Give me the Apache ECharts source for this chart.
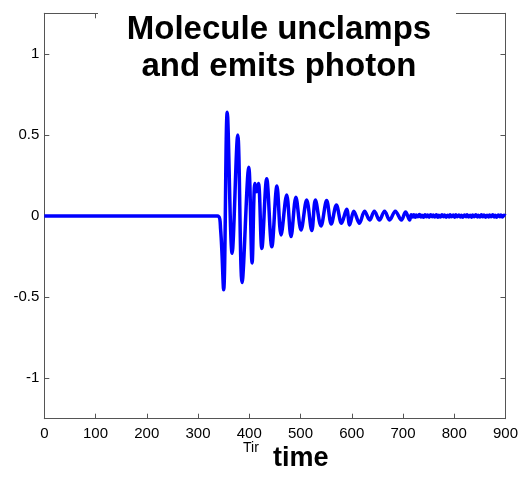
<!DOCTYPE html>
<html>
<head>
<meta charset="utf-8">
<script src="https://cdn.jsdelivr.net/npm/echarts@6/dist/echarts.min.js"></script>
<style>
  html, body { margin: 0; padding: 0; background: #fff; }
  #main { width: 521px; height: 477px; }
</style>
</head>
<body>
<div id="main"></div>
<script>
// signal (time, amplitude)
const times = [
  0, 100, 200, 300, 338, 344, 350, 357, 366.5, 377.5, 386, 399, 405.5,
  411, 414.5, 418, 424.5, 434, 444, 454, 462, 473, 481.5, 491, 501,
  512, 522, 529, 540, 551, 560, 570, 580, 590, 596, 604, 615, 625,
  635, 644, 654, 664, 674, 685, 697, 705, 713,
  716, 719, 721, 724, 726, 729, 732, 735, 737, 740, 743, 746, 748,
  751, 754, 757, 759, 762, 765, 768, 770, 773, 776, 779, 781, 784,
  787, 790, 792, 795, 798, 801, 803, 806, 809, 812, 814, 817, 820,
  823, 825, 828, 831, 834, 836, 839, 842, 845, 847, 850, 853, 856,
  858, 861, 864, 867, 869, 872, 875, 878, 880, 883, 886, 889, 891,
  894, 897, 900
];
const signal = [
  0, 0, 0, 0, 0, -0.08, -0.455, 0.64, -0.23, 0.50, -0.41, 0.30, -0.29,
  0.20, 0.15, 0.20, -0.20, 0.23, -0.19, 0.185, -0.117, 0.13, -0.127, 0.115, -0.086,
  0.098, -0.09, 0.098, -0.062, 0.095, -0.05, 0.068, -0.045, 0.041, -0.055, 0.03, -0.045, 0.03,
  -0.025, 0.03, -0.025, 0.03, -0.025, 0.03, -0.025, 0.025, -0.025,
  0.008, -0.006, 0.007, -0.008, 0.006, -0.005, 0.009, -0.006, 0.005, -0.008, 0.007, -0.005, 0.006,
  -0.007, 0.008, -0.005, 0.006, -0.006, 0.007, -0.008, 0.005, -0.006, 0.008, -0.005, 0.006, -0.007,
  0.005, -0.006, 0.007, -0.005, 0.006, -0.007, 0.008, -0.005, 0.006, -0.006, 0.005, -0.007, 0.006,
  -0.005, 0.007, -0.006, 0.005, -0.007, 0.006, -0.005, 0.008, -0.006, 0.005, -0.006, 0.007, -0.005,
  0.006, -0.007, 0.005, -0.006, 0.006, -0.005, 0.007, -0.006, 0.005, -0.007, 0.006, -0.005, 0.006,
  -0.006, 0.005, 0
];
const xTicks = [0, 100, 200, 300, 400, 500, 600, 700, 800, 900];
const yTicks = [-1, -0.5, 0, 0.5, 1];

const data = times.map((t, i) => [t, signal[i]]);
const axisColor = '#555';
const font = '"Liberation Sans", Arial, sans-serif';

function frameAxis(extra) {
  return Object.assign({
    type: 'value',
    axisLine: { show: true, onZero: false, lineStyle: { color: axisColor, width: 1 } },
    axisTick: { show: true, inside: true, length: 5, lineStyle: { color: axisColor } },
    splitLine: { show: false }
  }, extra);
}

const option = {
  animation: false,
  backgroundColor: '#fff',
  grid: { left: 44.3, right: 12.7, top: 13.3, bottom: 58.3 },
  xAxis: [
    frameAxis({
      min: 0, max: 900, interval: 100,
      axisLabel: { color: '#000', fontFamily: font, fontSize: 15, margin: 8 }
    }),
    frameAxis({
      position: 'top', min: 0, max: 900, interval: 100,
      axisLabel: { show: false }
    })
  ],
  yAxis: [
    frameAxis({
      min: -1.25, max: 1.25,
      axisTick: { show: true, inside: true, length: 5, customValues: yTicks, lineStyle: { color: axisColor } },
      axisLabel: { color: '#000', fontFamily: font, fontSize: 15, margin: 5, customValues: yTicks }
    }),
    frameAxis({
      position: 'right', min: -1.25, max: 1.25,
      axisTick: { show: true, inside: true, length: 5, customValues: yTicks, lineStyle: { color: axisColor } },
      axisLabel: { show: false, customValues: yTicks }
    })
  ],
  graphic: [
    {
      type: 'rect', z: 10, silent: true,
      shape: { x: 98, y: 0, width: 358, height: 86 },
      style: { fill: '#fff' }
    },
    {
      type: 'text', z: 11, x: 279, y: 11,
      style: {
        text: 'Molecule unclamps\nand emits photon',
        font: 'bold 33px ' + font,
        lineHeight: 37,
        fill: '#000',
        align: 'center',
        verticalAlign: 'top'
      }
    },
    {
      type: 'text', left: 243, top: 441,
      style: { text: 'Tir', font: '14px ' + font, fill: '#000' }
    },
    {
      type: 'text', left: 273, top: 445,
      style: { text: 'time', font: 'bold 27px ' + font, fill: '#000' }
    }
  ],
  series: [
    {
      type: 'line',
      data: data,
      smooth: 0.35,
      showSymbol: false,
      lineStyle: { color: '#0000ff', width: 3.5 },
      z: 3
    }
  ]
};

const chart = echarts.init(document.getElementById('main'));
chart.setOption(option);
</script>
</body>
</html>
